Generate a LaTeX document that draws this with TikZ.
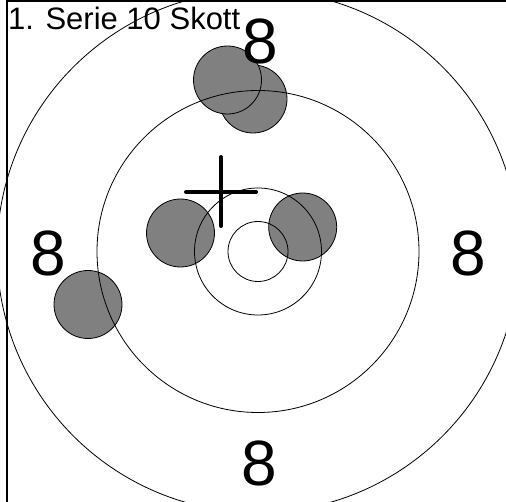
\documentclass[tikz,border=0pt]{standalone}
\usepackage{fontspec}
\setmainfont{Liberation Sans}
\begin{document}
\begin{tikzpicture}[x=1pt,y=-1pt,
		ring/.style={draw=black,line width=0.8pt},
		hole/.style={draw=black,fill=gray,line width=0.8pt},
		ringlabel/.style={inner sep=0pt,font=\fontsize{64}{70}\selectfont}]
		\useasboundingbox (0,0) rectangle (506,502);
		\clip (0,0) rectangle (506,502);
		\fill [white] (0,0) rectangle (506,502);
		\draw [line width=1.5pt] (7,520) -- (7,1) -- (520,1);
		
		\draw [hole] (253,99) circle [radius=34pt];
		\draw [hole] (227.5,80) circle [radius=34pt];
		\draw [hole] (180.5,233) circle [radius=34pt];
		\draw [hole] (302.7,227) circle [radius=34pt];
		\draw [hole] (88,304.5) circle [radius=34pt];
		
		\draw [ring] (258,251.5) circle [radius=30pt];
		\draw [ring] (258,251.5) circle [radius=63.5pt];
		\draw [ring] (258,251.5) circle [radius=161pt];
		\draw [ring] (258,251.5) circle [radius=261pt];
		
		\draw [line width=4pt,line cap=round] (186,192) -- (256,192);
		\draw [line width=4pt,line cap=round] (221,157) -- (221,226);
		
		\node [anchor=base west,inner sep=0pt,font=\fontsize{31}{36}\selectfont] (title) at (8,30) {1. Serie 10 Skott};
		\node [ringlabel] (top) at (260,41.5) {8};
		\node [ringlabel] (left) at (48,253) {8};
		\node [ringlabel] (right) at (468.5,253) {8};
		\node [ringlabel] (bottom) at (259,463.5) {8};
\end{tikzpicture}
\end{document}
